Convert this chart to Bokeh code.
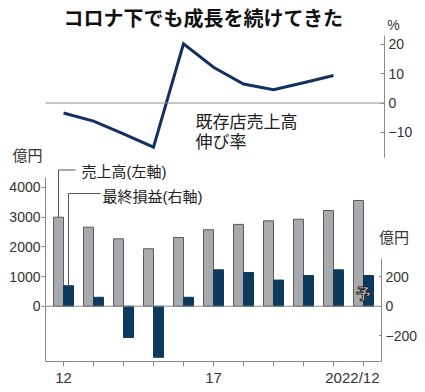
from bokeh.plotting import figure
from bokeh.layouts import column, row
from bokeh.models import Range1d, LinearAxis, FixedTicker, Span, Label, ColumnDataSource
from bokeh.transform import dodge
from bokeh.embed import file_html
from bokeh.resources import INLINE

# ---- data ----
years = [2012, 2013, 2014, 2015, 2016, 2017, 2018, 2019, 2020, 2021, 2022]
sales = [2997, 2660, 2269, 1933, 2313, 2575, 2755, 2875, 2929, 3222, 3559]      # 売上高 (億円, left axis)
profit = [138, 60, -211, -344, 60, 245, 227, 176, 207, 245, 207]                  # 最終損益 (億円, right axis)
growth_years = [2012, 2013, 2014, 2015, 2016, 2017, 2018, 2019, 2020, 2021]
growth = [-3.4, -6.2, -10.5, -15.1, 20.2, 12.2, 6.5, 4.5, 6.9, 9.4]              # 既存店売上高伸び率 (%)
pct_ticks = [-10, 0, 10, 20]
sales_ticks = [0, 1000, 2000, 3000, 4000]
profit_ticks = [-200, 0, 200]
x_labels = {2012: "12", 2017: "17", 2022: "2022/12"}

JP = "Noto Sans CJK JP"
JPL = "Liberation Sans, Noto Sans CJK JP"
NUM = "Liberation Sans"
AX = "#8a8a8a"
TXT = "#333333"
GRAY = "#a9aaad"
NAVY = "#0d3a5c"
LINE = "#14305e"


def base_fig(w, h, xr, yr, left=0, right=0, top=0, bottom=0):
    f = figure(width=w, height=h, x_range=xr, y_range=yr, output_backend="svg",
               toolbar_location=None, x_axis_location=None, y_axis_location=None,
               min_border_left=left, min_border_right=right,
               min_border_top=top, min_border_bottom=bottom, frame_align=False)
    f.outline_line_color = None
    f.grid.visible = False
    return f


def style_axis(ax, tick_in=0, tick_out=4, standoff=2, size="14px"):
    ax.axis_line_color = AX
    ax.major_tick_line_color = AX
    ax.minor_tick_line_color = None
    ax.major_tick_in = tick_in
    ax.major_tick_out = tick_out
    ax.major_label_standoff = standoff
    ax.major_label_text_font = NUM
    ax.major_label_text_font_size = size
    ax.major_label_text_color = TXT


def lab(fig, x, y, text, size="15px", align="left", bold=False, color="#222222", font=JPL, **kw):
    fig.add_layout(Label(x=x, y=y, text=text, text_align=align, text_baseline="middle",
                         text_font=font, text_font_size=size, text_color=color,
                         text_font_style="bold" if bold else "normal", **kw))


# ---- header (title + unit) ----
head = base_fig(420, 35, Range1d(0, 420), Range1d(35, 0))
lab(head, 203, 17, "コロナ下でも成長を続けてきた", size="20px", align="center", bold=True,
    color="#111111", font=JP)
lab(head, 393, 24, "%", size="14px", align="center", color=TXT, font=NUM)

# ---- growth-rate chart ----
lstrip = base_fig(45, 128, Range1d(0, 45), Range1d(163, 35))
lab(lstrip, 27, 154.5, "億円", size="15px", align="center", color=TXT)

topc = base_fig(375, 128, Range1d(2011.4, 2022.7), Range1d(-20.65, 23.04), right=36)
ax_pct = LinearAxis(ticker=FixedTicker(ticks=pct_ticks), bounds=(-18.6, 23.04))
style_axis(ax_pct, tick_in=4, tick_out=0, standoff=4)
topc.add_layout(ax_pct, "right")
topc.add_layout(Span(location=0, dimension="width", line_color=AX, line_width=1))
topc.line(growth_years, growth, line_color=LINE, line_width=3, line_join="miter")
lab(topc, 2016.4, -6.5, "既存店売上高", size="17px")
lab(topc, 2016.4, -13.65, "伸び率", size="17px")

# ---- sales / profit chart ----
src = ColumnDataSource(dict(year=years, sales=sales, profit=profit))
s_lab_y = 4586   # legend leader heights (sales units / profit units)
p_lab_y = 759

main = base_fig(379, 225, Range1d(2011.4, 2022.5333), Range1d(-1861.9, 4804.7), left=45, bottom=27)
main.extra_y_ranges = {"profit": Range1d(-372.38, 960.94)}
ax_s = LinearAxis(ticker=FixedTicker(ticks=sales_ticks), bounds=(-1861.9, 4333))
style_axis(ax_s, tick_in=0, tick_out=4, standoff=1)
main.add_layout(ax_s, "left")
ax_x = LinearAxis(ticker=FixedTicker(ticks=years),
                  major_label_overrides={y: x_labels.get(y, "") for y in years})
style_axis(ax_x, tick_in=0, tick_out=5, standoff=2, size="15px")
main.add_layout(ax_x, "below")

main.vbar(x=dodge("year", -1/6, range=main.x_range), width=1/3, top="sales", bottom=0, source=src,
          fill_color=GRAY, line_color="#5a5b5e", line_width=1)
main.vbar(x=dodge("year", 1/6, range=main.x_range), width=1/3, top="profit", bottom=0, source=src,
          y_range_name="profit", fill_color=NAVY, line_color=NAVY, line_width=1)
main.add_layout(Span(location=0, dimension="width", line_color=AX, line_width=1))
main.line([years[0] - 1/6, years[0] - 1/6, years[0] + 0.4], [sales[0], s_lab_y, s_lab_y],
          line_color="#555555", line_width=1)
main.line([years[0] + 1/6, years[0] + 1/6, years[0] + 1.23], [profit[0], p_lab_y, p_lab_y],
          y_range_name="profit", line_color="#555555", line_width=1)
lab(main, years[0] + 0.6, s_lab_y, "売上高(左軸)", y_offset=-2)
lab(main, years[0] + 1.3, p_lab_y, "最終損益(右軸)", y_range_name="profit", y_offset=-3)
lab(main, years[-1], 91, "予", align="center", bold=True, color="white",
    y_range_name="profit", text_outline_color="#1a1a1a", font=JP)

# right-hand strip: unit label above, profit axis below (same scale as main)
rstrip = base_fig(41, 93, Range1d(379, 420), Range1d(256, 163))
lab(rstrip, 393.5, 237, "億円", size="15px", align="center", color=TXT)

rsb = base_fig(41, 132, Range1d(2022.5333, 2022.7), Range1d(-372.38, 334.68), right=36, bottom=27)
ax_p = LinearAxis(ticker=FixedTicker(ticks=profit_ticks), bounds=(-372.38, 318))
style_axis(ax_p, tick_in=4, tick_out=0, standoff=4)
rsb.add_layout(ax_p, "right")
ax_x2 = LinearAxis(ticker=FixedTicker(ticks=[years[-1]]), bounds=(2021.5, 2022.7),
                   major_label_overrides={years[-1]: x_labels[years[-1]]})
style_axis(ax_x2, tick_in=0, tick_out=5, standoff=2, size="15px")
rsb.add_layout(ax_x2, "below")
rsb.add_layout(Span(location=0, dimension="width", line_color=AX, line_width=1))

layout = column(head, row(lstrip, topc, spacing=0),
                row(main, column(rstrip, rsb, spacing=0), spacing=0), spacing=0)
open("out.html", "w").write(file_html(layout, INLINE))
